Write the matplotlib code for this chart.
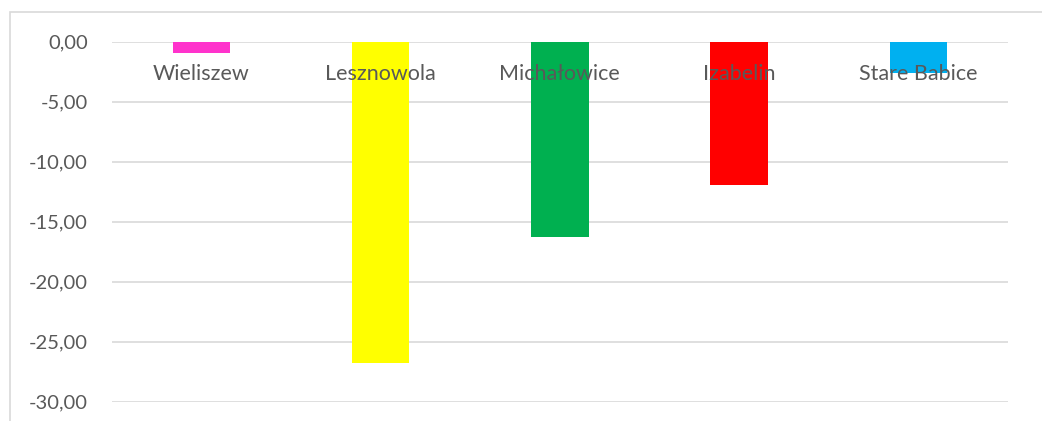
import matplotlib.pyplot as plt
from matplotlib.patches import Rectangle

gminy = ['Wieliszew', 'Lesznowola', 'Michałowice', 'Izabelin', 'Stare Babice']
zmiana = [-0.95, -26.8, -16.25, -11.92, -2.64]
kolory = ['#FF33CC', '#FFFF00', '#00B050', '#FF0000', '#00B0F0']
yticks = [0, -5, -10, -15, -20, -25, -30]

plt.rcParams['font.family'] = ['Lato', 'DejaVu Sans']

fig = plt.figure(figsize=(10.42, 4.21), dpi=100)
ax = fig.add_axes([111.7 / 1042, 1 - 401.7 / 421, (1008 - 111.7) / 1042, 360 / 421])

x = list(range(len(gminy)))
ax.bar(x, zmiana, width=0.32, color=kolory, zorder=2)

ax.set_xlim(-0.5, len(gminy) - 0.5)
ax.set_ylim(-30, 0)
ax.set_yticks(yticks)
ax.set_yticklabels([('%.2f' % v).replace('.', ',') for v in yticks])
ax.tick_params(axis='y', length=0, pad=17, labelsize=14.5, labelcolor='#595959')
ax.set_xticks([])
ax.grid(axis='y', color='#D9D9D9', linewidth=1.2, zorder=0)
for s in ax.spines.values():
    s.set_visible(False)

# etykiety kategorii przy osi zero (nad słupkami)
for i, g in enumerate(gminy):
    ax.text(i, -2.65, g, ha='center', va='center', fontsize=15.5, color='#595959', zorder=5)

# ramka wykresu
fig.patches.append(Rectangle((10 / 1042, -0.1), 1.2, 1.1 - 12 / 421, transform=fig.transFigure,
                             fill=False, edgecolor='#D9D9D9', linewidth=1.2))

fig.savefig('out.png', dpi=100)
